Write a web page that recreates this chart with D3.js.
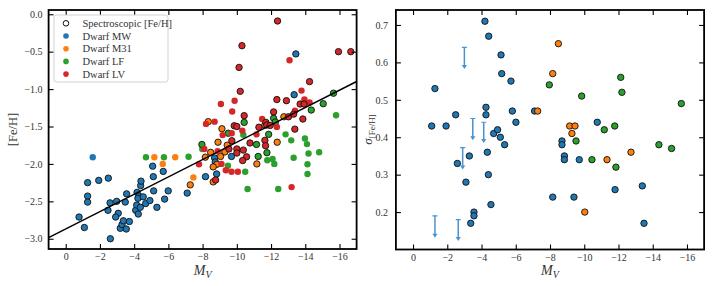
<!DOCTYPE html>
<html><head><meta charset="utf-8">
<script src="https://cdn.jsdelivr.net/npm/d3@7"></script>
<style>body{margin:0;background:#fff}svg{display:block}</style>
</head><body><svg id="c" width="714" height="286"></svg>
<script>
// ---------- DATA (left panel: [M_V, [Fe/H]]) ----------
const mwSpec = [[-0.78,-2.71],[-1.09,-2.85],[-1.28,-2.25],[-1.28,-2.43],[-1.28,-2.51],[-1.93,-2.22],[-2.49,-2.19],[-2.47,-2.62],[-2.59,-2.52],[-2.61,-3.0],[-2.98,-2.5],[-3.07,-2.66],[-2.92,-2.71],[-3.19,-2.86],[-3.29,-2.81],[-3.37,-2.76],[-3.54,-2.87],[-3.48,-2.51],[-3.56,-2.40],[-3.72,-2.77],[-4.17,-2.38],[-4.09,-2.62],[-4.15,-2.55],[-4.24,-2.67],[-4.28,-2.43],[-4.22,-2.46],[-4.38,-2.29],[-4.4,-2.23],[-4.36,-2.58],[-4.53,-2.44],[-4.67,-2.53],[-4.92,-2.49],[-5.08,-2.03],[-5.12,-2.17],[-5.14,-2.36],[-5.33,-2.58],[-5.7,-2.10],[-5.78,-2.47],[-5.99,-2.36],[-7.1,-2.39],[-8.17,-2.17],[-8.70,-1.92],[-8.74,-1.975],[-8.82,-2.135],[-9.69,-1.90],[-13.35,-1.075],[-13.45,-0.53]];
const mwPhot = [[-1.58,-1.91]];
const m31Spec = [[-8.33,-1.435],[-9.13,-1.53],[-12.75,-1.37],[-11.64,-1.48],[-12.36,-1.71],[-8.9,-1.71],[-9.44,-1.75],[-9.3,-1.84],[-8.47,-1.845],[-8.16,-1.91],[-9.05,-1.90],[-8.84,-2.005],[-8.62,-2.04],[-8.62,-2.24],[-7.28,-2.28],[-11.17,-2.0]];
const m31Phot = [[-5.18,-1.91],[-6.4,-1.91],[-5.67,-2.0],[-7.46,-2.18]];
const lfSpec = [[-15.65,-1.055],[-15.05,-1.195],[-14.35,-1.28],[-12.15,-1.39],[-12.25,-1.44],[-10.43,-1.445],[-9.5,-1.59],[-11.86,-1.605],[-7.96,-1.74],[-11.15,-1.74],[-11.76,-1.85],[-11.25,-1.90]];
const lfPhot = [[-15.8,-1.35],[-10.38,-1.61],[-12.85,-1.605],[-13.98,-1.66],[-13.18,-1.685],[-14.1,-1.735],[-14.81,-1.845],[-14.19,-1.86],[-14.13,-2.005],[-14.13,-2.135],[-13.32,-1.917],[-11.78,-1.95],[-12.09,-1.935],[-12.19,-2.0],[-12.42,-2.335],[-10.63,-2.335],[-9.48,-2.025],[-10.49,-2.105],[-7.18,-1.905],[-4.69,-1.91],[-5.74,-1.91],[-7.98,-1.80]];
const lvSpec = [[-12.38,-0.09],[-10.3,-0.42],[-15.94,-0.50],[-16.66,-0.50],[-10.13,-0.71],[-10.2,-1.03],[-14.25,-0.90],[-12.34,-1.14],[-12.9,-1.155],[-13.7,-1.20],[-13.93,-1.20],[-12.15,-1.305],[-13.02,-1.37],[-13.32,-1.335],[-13.86,-1.40],[-10.43,-1.355],[-11.7,-1.445],[-9.85,-1.49],[-10.0,-1.50],[-11.29,-1.51],[-11.75,-1.48],[-11.95,-1.485],[-13.39,-1.535],[-11.64,-1.685],[-11.68,-1.757],[-10.77,-1.72],[-10.38,-1.815],[-10.57,-1.905],[-10.34,-1.955],[-10.0,-1.80],[-10.0,-1.855],[-9.71,-1.69],[-9.54,-1.80],[-8.76,-2.215]];
const lvPhot = [[-13.08,-0.615],[-13.78,-1.02],[-13.95,-1.14],[-14.25,-1.18],[-9.87,-1.155],[-9.07,-1.20],[-9.73,-1.30],[-13.4,-1.29],[-8.2,-1.465],[-8.7,-1.435],[-11.48,-1.40],[-9.17,-1.615],[-9.7,-1.59],[-10.32,-1.555],[-11.15,-1.605],[-12.34,-1.505],[-8.88,-1.83],[-8.1,-1.80],[-9.1,-2.0],[-9.36,-2.085],[-9.69,-2.105],[-10.06,-2.105],[-7.79,-2.005],[-13.2,-2.31]];
const fitSlope = -0.116, fitIntercept = -2.87;

// ---------- DATA (right panel: [M_V, sigma]) ----------
const mwSigma = [[-1.09,0.43],[-1.28,0.53],[-1.93,0.43],[-2.49,0.46],[-4.2,0.71],[-4.42,0.67],[-4.26,0.48],[-4.26,0.46],[-4.71,0.41],[-4.94,0.42],[-5.1,0.40],[-5.14,0.62],[-5.18,0.57],[-5.72,0.55],[-5.8,0.47],[-6.01,0.44],[-7.1,0.47],[-5.35,0.38],[-3.29,0.35],[-2.59,0.33],[-4.34,0.36],[-4.4,0.30],[-3.09,0.28],[-4.55,0.22],[-3.56,0.20],[-3.56,0.19],[-3.37,0.17],[-8.16,0.24],[-8.7,0.39],[-8.7,0.38],[-8.84,0.35],[-8.84,0.34],[-9.71,0.34],[-9.4,0.24],[-11.8,0.26],[-13.39,0.27],[-13.49,0.17],[-10.76,0.44]];
const m31Sigma = [[-7.28,0.47],[-8.49,0.65],[-8.16,0.57],[-9.15,0.43],[-9.46,0.43],[-9.28,0.41],[-11.33,0.34],[-12.73,0.36],[-10.03,0.20]];
const lfSigma = [[-7.96,0.54],[-9.85,0.51],[-9.52,0.39],[-11.17,0.42],[-11.78,0.43],[-12.13,0.56],[-12.2,0.52],[-15.67,0.49],[-10.45,0.34],[-11.85,0.32],[-14.36,0.38],[-15.1,0.37]];
const mwSigmaLimits = [[-3.0,0.64,0.584],[-3.49,0.45,0.393],[-4.13,0.44,0.386],[-2.9,0.372,0.315],[-1.28,0.19,0.133],[-2.64,0.18,0.124]];

const xTicks = [0,-2,-4,-6,-8,-10,-12,-14,-16];
const feTicks = [0.0,-0.5,-1.0,-1.5,-2.0,-2.5,-3.0];
const sigTicks = [0.2,0.3,0.4,0.5,0.6,0.7];
const legendLabels = ["Spectroscopic [Fe/H]","Dwarf MW","Dwarf M31","Dwarf LF","Dwarf LV"];
const colors = {mw:"#1f77b4", m31:"#ff7f0e", lf:"#2ca02c", lv:"#d62728"};

// ---------- DRAW ----------
const svg = d3.select("#c");
const FONT = "'Liberation Serif', 'DejaVu Serif', serif";
const fmtMinus = v => (v<0?"\u2212":"") + Math.abs(v);

function panel(x0, x1, yTop, yBot, xDomain, yDomain, yTicks, yFmt, yPad) {
  const x = d3.scaleLinear().domain(xDomain).range([x0, x1]);
  const y = d3.scaleLinear().domain(yDomain).range([yBot, yTop]);
  const g = svg.append("g");
  const clipId = "clip" + Math.round(x0);
  svg.append("clipPath").attr("id", clipId).append("rect")
    .attr("x", x0).attr("y", yTop).attr("width", x1-x0).attr("height", yBot-yTop);
  const plot = g.append("g").attr("clip-path", `url(#${clipId})`);
  const tl = 5;
  const bottom = d3.axisBottom(x).tickValues(xTicks).tickSize(-tl).tickPadding(4).tickFormat(fmtMinus);
  const top = d3.axisTop(x).tickValues(xTicks).tickSize(-tl).tickFormat("");
  const left = d3.axisLeft(y).tickValues(yTicks).tickSize(-tl).tickPadding(yPad).tickFormat(yFmt);
  const right = d3.axisRight(y).tickValues(yTicks).tickSize(-tl).tickFormat("");
  const ax = [
    g.append("g").attr("transform", `translate(0,${yBot})`).call(bottom),
    g.append("g").attr("transform", `translate(0,${yTop})`).call(top),
    g.append("g").attr("transform", `translate(${x0},0)`).call(left),
    g.append("g").attr("transform", `translate(${x1},0)`).call(right)];
  ax.forEach(a => {
    a.select(".domain").remove();
    a.selectAll(".tick line").attr("stroke", "#000").attr("stroke-width", 1.1);
    a.selectAll("text").attr("font-family", FONT).attr("font-size", 10).attr("fill", "#333");
  });
  g.append("rect").attr("x", x0).attr("y", yTop).attr("width", x1-x0).attr("height", yBot-yTop)
    .attr("fill", "none").attr("stroke", "#000").attr("stroke-width", 1.8);
  return {x, y, plot, g};
}

function dots(p, data, color, spec) {
  p.plot.append("g").selectAll("circle").data(data).join("circle")
    .attr("cx", d => p.x(d[0])).attr("cy", d => p.y(d[1])).attr("r", 3.2)
    .attr("fill", color)
    .attr("stroke", spec ? "#111" : "none").attr("stroke-width", 0.9);
}

// Left panel
const L = panel(48.6, 356.6, 10, 249, [1,-17], [-3.137, 0.057], feTicks, d => d3.format(".1f")(d).replace("-", "\u2212"), 6);
dots(L, mwPhot, colors.mw, false);
dots(L, mwSpec, colors.mw, true);
dots(L, m31Phot, colors.m31, false);
dots(L, m31Spec, colors.m31, true);
dots(L, lfPhot, colors.lf, false);
dots(L, lfSpec, colors.lf, true);
dots(L, lvPhot, colors.lv, false);
dots(L, lvSpec, colors.lv, true);
L.plot.append("line")
  .attr("x1", L.x(1)).attr("y1", L.y(fitIntercept + fitSlope*1))
  .attr("x2", L.x(-17)).attr("y2", L.y(fitIntercept + fitSlope*-17))
  .attr("stroke", "#000").attr("stroke-width", 1.5);

// legend
const lg = L.g.append("g");
lg.append("rect").attr("x", 54).attr("y", 15).attr("width", 114).attr("height", 67).attr("rx", 2.5)
  .attr("fill", "#fff").attr("fill-opacity", 0.85).attr("stroke", "#ccc").attr("stroke-width", 0.9);
const legColors = [null, colors.mw, colors.m31, colors.lf, colors.lv];
legendLabels.forEach((t, i) => {
  const yy = 23.3 + i*12.7;
  lg.append("circle").attr("cx", 66).attr("cy", yy).attr("r", 2.8)
    .attr("fill", legColors[i] || "none").attr("stroke", legColors[i] ? "none" : "#111").attr("stroke-width", 1);
  lg.append("text").attr("x", 82.5).attr("y", yy).attr("dy", "0.35em")
    .attr("font-family", FONT).attr("font-size", 10.5).attr("fill", "#333").text(t);
});

// Right panel
const R = panel(395.9, 704.1, 10, 249.5, [1,-17], [0.1, 0.74], sigTicks, d => d3.format(".1f")(d), 8);
const arrowCol = "#4a93cf";
mwSigmaLimits.forEach(d => {
  const xx = R.x(d[0]), yt = R.y(d[1]), yb = R.y(d[2]);
  R.plot.append("line").attr("x1", xx).attr("x2", xx).attr("y1", yt).attr("y2", yb - 2)
    .attr("stroke", arrowCol).attr("stroke-width", 1.5);
  R.plot.append("line").attr("x1", xx-2.5).attr("x2", xx+2.5).attr("y1", yt).attr("y2", yt)
    .attr("stroke", arrowCol).attr("stroke-width", 1.2);
  R.plot.append("path").attr("d", `M${xx-2.6},${yb-3.5} L${xx+2.6},${yb-3.5} L${xx},${yb+0.5} Z`)
    .attr("fill", arrowCol);
});
dots(R, mwSigma, colors.mw, true);
dots(R, m31Sigma, colors.m31, true);
dots(R, lfSigma, colors.lf, true);

// axis labels
function mvLabel(cx) {
  const t = svg.append("text").attr("x", cx).attr("y", 275).attr("text-anchor", "middle")
    .attr("font-family", FONT).attr("font-size", 14).attr("fill", "#333");
  t.append("tspan").attr("font-style", "italic").text("M");
  t.append("tspan").attr("font-style", "italic").attr("font-size", 10).attr("dy", 3).text("V");
}
mvLabel((48.6 + 356.6) / 2);
mvLabel((395.9 + 704.1) / 2);
svg.append("text").attr("transform", `translate(17,${(10+249)/2}) rotate(-90)`).attr("text-anchor", "middle")
  .attr("font-family", FONT).attr("font-size", 12.5).attr("fill", "#333").text("[Fe/H]");
const sl = svg.append("text").attr("transform", `translate(372,${(10+249)/2}) rotate(-90)`).attr("text-anchor", "middle")
  .attr("font-family", FONT).attr("font-size", 13).attr("fill", "#333");
sl.append("tspan").attr("font-style", "italic").text("σ");
sl.append("tspan").attr("font-size", 9).attr("dy", 3).text("[Fe/H]");
</script></body></html>
